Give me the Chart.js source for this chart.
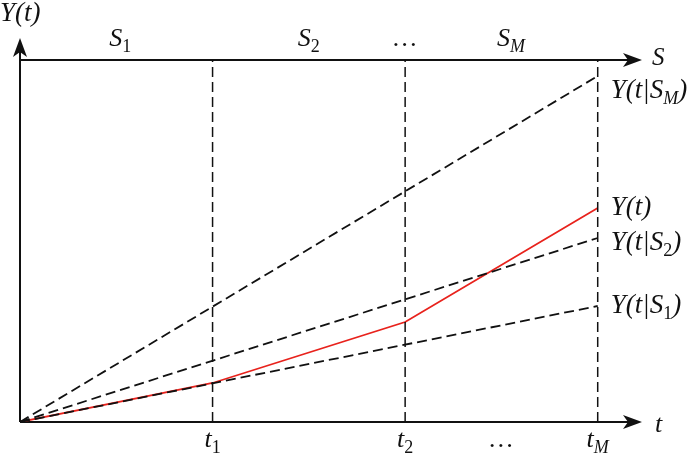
<!DOCTYPE html>
<html>
<head>
<script src="https://cdn.jsdelivr.net/npm/chart.js@4/dist/chart.umd.min.js"></script>
<style>
    body { margin: 0; background: #fff; }
</style>
</head>
<body>
<canvas id="chart" width="700" height="454"></canvas>
<script>
// time points t0, t1, t2, tM
const timePoints = [0, 1, 2, 3];
// actual path Y(t)
const actualValues = [0, 0.39, 1.00, 2.14];
// conditional paths Y(t|S_i), start at 0, end at tM
const condNames = ["Y(t|S_1)", "Y(t|S_2)", "Y(t|S_M)"];
const condEndValues = [1.16, 1.84, 3.46];
// labels
const tickLabels = ["t_1", "t_2", "…", "t_M"];
const tickAt = [1, 2, 2.5, 3];
const stateLabels = ["S_1", "S_2", "…", "S_M"];
const stateAt = [0.52, 1.5, 2.0, 2.55];
const stateLevel = 3.62;
const xMax = 3.23;
const yMax = 3.84;

const SERIF = '"Liberation Serif"';

// split "Y(t|S_1)" into runs: main text italic, subscripts smaller
function drawRich(ctx, str, x, y, size) {
    const runs = [];
    for (let i = 0; i < str.length; i++) {
        let ch = str[i], sub = false;
        if (ch === "_") { sub = true; ch = str[++i]; }
        const ital = !sub || /[A-Za-z]/.test(ch);
        const last = runs[runs.length - 1];
        if (last && last.sub === sub && last.ital === ital) last.text += ch;
        else runs.push({ text: ch, sub, ital });
    }
    const sub = Math.round(size * 0.68);
    let w = 0;
    runs.forEach(r => {
        r.font = (r.ital ? "italic " : "") + (r.sub ? sub : size) + "px " + SERIF;
        ctx.font = r.font;
        r.w = ctx.measureText(r.text).width;
        w += r.w;
    });
    let cx = x - w / 2;
    ctx.textAlign = "left";
    ctx.textBaseline = "alphabetic";
    runs.forEach(r => {
        ctx.font = r.font;
        ctx.fillText(r.text, cx, r.sub ? y + Math.round(size * 0.22) : y);
        cx += r.w;
    });
    return w;
}

function drawRichLeft(ctx, str, x, y, size) {
    ctx.save();
    ctx.globalAlpha = 0;
    const w = drawRich(ctx, str, 0, -100, size);
    ctx.restore();
    drawRich(ctx, str, x + w / 2, y, size);
}

function arrow(ctx, x, y, dir) {
    ctx.save();
    ctx.translate(x, y);
    if (dir === "up") ctx.rotate(-Math.PI / 2);
    ctx.beginPath();
    ctx.moveTo(0, 0);
    ctx.lineTo(-19, -7);
    ctx.lineTo(-14, 0);
    ctx.lineTo(-19, 7);
    ctx.closePath();
    ctx.fill();
    ctx.restore();
}

const sketchPlugin = {
    id: "sketch",
    beforeDatasetsDraw(chart) {
        const ctx = chart.ctx;
        const xs = chart.scales.x, ys = chart.scales.y;
        const x0 = xs.getPixelForValue(0), y0 = ys.getPixelForValue(0);
        const xEnd = xs.getPixelForValue(xMax);
        const yTop = ys.getPixelForValue(yMax);
        const yS = ys.getPixelForValue(stateLevel);
        ctx.save();
        ctx.strokeStyle = "#111";
        ctx.fillStyle = "#111";
        ctx.lineWidth = 2;
        ctx.beginPath();
        ctx.moveTo(x0, y0); ctx.lineTo(xEnd - 6, y0);
        ctx.moveTo(x0, y0); ctx.lineTo(x0, yTop + 6);
        ctx.moveTo(x0, yS); ctx.lineTo(xEnd - 6, yS);
        ctx.stroke();
        arrow(ctx, xEnd, y0, "right");
        arrow(ctx, xEnd, yS, "right");
        arrow(ctx, x0, yTop, "up");
        ctx.restore();
    },
    afterDraw(chart) {
        const ctx = chart.ctx;
        const xs = chart.scales.x, ys = chart.scales.y;
        const y0 = ys.getPixelForValue(0);
        const xEnd = xs.getPixelForValue(xMax);
        const yS = ys.getPixelForValue(stateLevel);
        ctx.save();
        ctx.fillStyle = "#111";
        drawRichLeft(ctx, "Y(t)", 0, 21, 27);
        drawRichLeft(ctx, "S", xEnd + 10, yS + 5, 25);
        drawRichLeft(ctx, "t", xEnd + 13, y0 + 10, 26);
        stateLabels.forEach((s, i) =>
            drawRich(ctx, s, xs.getPixelForValue(stateAt[i]), 46, 26));
        tickLabels.forEach((s, i) =>
            drawRich(ctx, s, xs.getPixelForValue(tickAt[i]), 447, 26));
        const xr = xs.getPixelForValue(timePoints[3]) + 13;
        const lastActual = actualValues[actualValues.length - 1];
        drawRichLeft(ctx, "Y(t)", xr, ys.getPixelForValue(lastActual) + 7, 27);
        const offs = [7, 12, 22];
        condNames.forEach((s, i) =>
            drawRichLeft(ctx, s, xr, ys.getPixelForValue(condEndValues[i]) + offs[i], 27));
        ctx.restore();
    }
};

const dash = [10, 5];
const datasets = [];
// vertical guides at t1..tM
timePoints.slice(1).forEach(t => {
    datasets.push({
        data: [{ x: t, y: 0 }, { x: t, y: stateLevel }],
        borderColor: "#111", borderWidth: 1.5, borderDash: dash
    });
});
condEndValues.forEach(v => {
    datasets.push({
        data: [{ x: 0, y: 0 }, { x: timePoints[3], y: v }],
        borderColor: "#111", borderWidth: 1.8, borderDash: dash
    });
});
datasets.push({
    data: timePoints.map((t, i) => ({ x: t, y: actualValues[i] })),
    borderColor: "#e8221c", borderWidth: 1.8
});

new Chart(document.getElementById("chart"), {
    type: "line",
    data: { datasets: datasets },
    options: {
        responsive: false,
        animation: false,
        events: [],
        layout: { padding: { left: 20, top: 38, right: 58, bottom: 32 } },
        elements: { point: { radius: 0 }, line: { tension: 0 } },
        plugins: { legend: { display: false }, tooltip: { enabled: false } },
        scales: {
            x: { type: "linear", min: 0, max: xMax, display: false },
            y: { type: "linear", min: 0, max: yMax, display: false }
        }
    },
    plugins: [sketchPlugin]
});
</script>
</body>
</html>
